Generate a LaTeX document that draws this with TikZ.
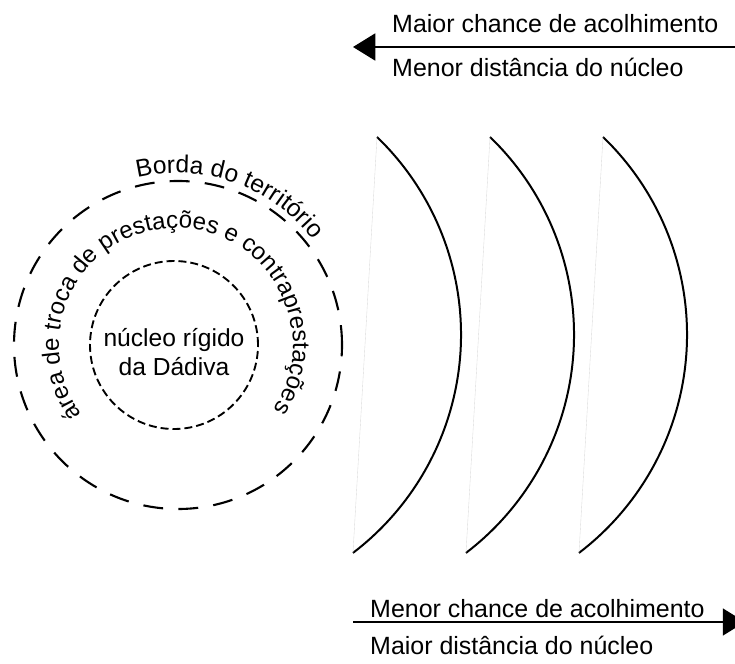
\documentclass[tikz,border=0pt]{standalone}
\usepackage{fontspec}
\setmainfont{Liberation Sans}
\usetikzlibrary{arrows.meta,decorations.text}

\begin{document}
\begin{tikzpicture}[x=0.03cm,y=0.03cm,
    lbl/.style={font=\fontsize{21.3}{25}\selectfont, inner sep=0pt},
    bigdash/.style={line width=1.8pt, dash pattern=on 17pt off 13pt},
    smalldash/.style={line width=1.6pt, dash pattern=on 6.8pt off 3.4pt},
    shell/.style={line width=1.7pt},
    chord/.style={gray!30, line width=0.3pt},
    flow/.style={line width=1.7pt, -{Triangle[length=19pt,width=23pt]}}]
		\useasboundingbox (0,0) rectangle (735,663);
		% territory and nucleus
		\draw[bigdash] (178,318) circle[radius=164];
		\draw[smalldash] (174,318) circle[radius=84];
		\node[lbl, font=\fontsize{21}{25}\selectfont, align=center] (nucleo) at (174,311) {núcleo rígido\\da Dádiva};
		\path[decorate, decoration={text along path, text align=center,
            text={|\fontsize{21}{25}\selectfont|Borda do território}}]
            (177,318) ++(110.5:172) arc[start angle=110.5, end angle=30.5, radius=172];
		\path[decorate, decoration={text along path, text align=center,
            text={|\fontsize{20.5}{24}\selectfont|área de troca de prestações e contraprestações}}]
            (176,318) ++(241.5:117) arc[start angle=241.5, end angle=-58.5, radius=117];
		% shells
		\foreach \dx [count=\i] in {0,113,226} {
			\draw[shell] (377+\dx,526) coordinate (arcTop\i)
                arc[start angle=46.06, end angle=-52.67, radius=274.5] coordinate (arcBot\i);
			\draw[chord] (arcTop\i) -- (arcBot\i);
		}
		% top arrow
		\coordinate (moreR) at (735,616);
		\coordinate (moreL) at (353,616);
		\draw[flow] (moreR) -- (moreL);
		\node[lbl, anchor=west] (maiorChance) at (392,639) {Maior chance de acolhimento};
		\node[lbl, anchor=west] (menorDist) at (392,595.5) {Menor distância do núcleo};
		% bottom arrow
		\coordinate (lessL) at (353,41);
		\coordinate (lessR) at (745,41);
		\draw[flow] (lessL) -- (lessR);
		\node[lbl, anchor=west] (menorChance) at (370,54.5) {Menor chance de acolhimento};
		\node[lbl, anchor=west] (maiorDist) at (370,18) {Maior distância do núcleo};
	\end{tikzpicture}
\end{document}
